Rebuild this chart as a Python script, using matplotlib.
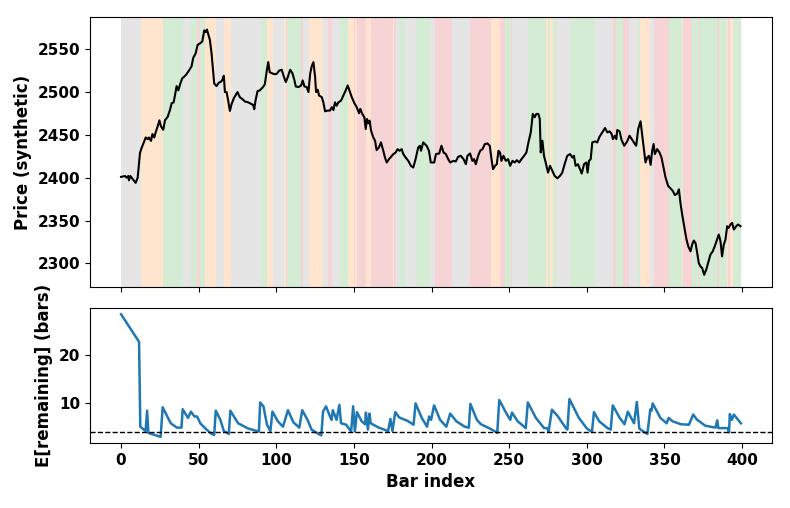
import matplotlib
matplotlib.use('Agg')
import matplotlib.pyplot as plt
import numpy as np

plt.rcParams['font.weight'] = 'bold'
plt.rcParams['axes.labelweight'] = 'bold'
plt.rcParams['font.size'] = 11

# price path (bar index, price)
price_x = [0, 2.6, 3.6, 4.7, 5.1, 6, 7.3, 9.4, 10.7, 12.2, 13.3, 15.9, 17.2, 18, 19.3, 20.2, 21.4, 22.3,
           23.6, 24.7, 25.7, 27.2, 28.3, 30, 31.5, 32.6, 33.9, 34.7, 35.8, 36.9, 38.2, 39.4, 40.7, 42.2,
           43.7, 45.4, 46.5, 48, 49.3, 51, 52.3, 53.6, 54.5, 55.3, 57.2, 58.3, 60, 61.5, 63, 64.3, 65.2,
           66.2, 66.9, 68, 69, 70.1, 71.2, 72.7, 75, 76.5, 78, 79.8, 81.9, 84, 85.1, 85.8, 86.6, 87.9,
           89.4, 91.5, 92.6, 93.7, 94.8, 95.8, 97.3, 98.6, 100.1, 101.8, 103.5, 104.6, 106.1, 107.4,
           108.9, 110.4, 111.7, 112.5, 114.3, 116, 117, 118.1, 119.6, 120.7, 121.8, 122.8, 123.9, 125,
           125.6, 126.7, 127.5, 129.3, 130.3, 131.4, 133.1, 134.6, 135.7, 136.8, 137.8, 138.9, 140,
           141.7, 143.2, 144.7, 146, 147.5, 148.6, 150.3, 151.8, 153.3, 154.1, 155.4, 156.7, 157.6,
           158.4, 159.3, 160.1, 161, 162.5, 163.6, 164.6, 166.1, 167.4, 168.9, 170, 171.1, 172.6, 173.9,
           175.4, 176.9, 178.1, 179.4, 180.7, 181.8, 183.3, 185, 186.7, 188.2, 189.7, 191.4, 192.5,
           193.2, 194.6, 196.8, 198.3, 199.5, 201.7, 202.8, 204.9, 206.4, 207.7, 209.2, 210.7, 212,
           214.1, 215.6, 217.1, 218.8, 220.6, 222.1, 223.1, 224.8, 226.3, 227.4, 228.5, 230, 231.3,
           232.8, 234.3, 236, 237.5, 238.6, 239.6, 240.9, 242, 243.1, 244.1, 245, 246.3, 247.8, 249.3,
           250.6, 252.1, 253.6, 254.9, 256.4, 257.9, 259.6, 261.1, 262.4, 263.9, 265.2, 266.4, 267.5,
           268.8, 269.7, 270.3, 271.4, 272.4, 273.5, 275, 276.3, 277.8, 279.3, 281, 282.7, 284.2, 285.7,
           287.4, 289.2, 290.7, 291.7, 292.8, 294.3, 295.6, 296.7, 298.2, 299.7, 300.5, 301.4, 302.5,
           303.5, 305.2, 306.7, 308.2, 310, 311.7, 313.2, 314.7, 316, 316.8, 318.1, 319, 319.6, 321.1,
           322.4, 324.1, 326, 327.5, 329.3, 331, 331.8, 333.1, 334.6, 335.7, 336.8, 337.8, 338.9, 340,
           341.1, 342.1, 343, 343.8, 345.3, 346.8, 348.1, 349.6, 350.7, 352.4, 353.9, 355.4, 356.7,
           358.2, 359.3, 360.3, 361.4, 362.7, 364, 365.3, 366.8, 367.8, 368.9, 370, 371.1, 372.1, 373.2,
           374.3, 375.6, 376.9, 378.1, 379.6, 381.1, 382.4, 383.9, 385, 386.1, 387.1, 388.2, 389.3,
           390.4, 391.4, 392.5, 393.6, 394.7, 396.2, 397.4, 399]
price_y = [2401, 2402, 2400, 2402, 2397, 2402, 2399, 2394, 2400, 2429, 2435, 2447, 2445, 2447, 2443, 2451,
           2447, 2453, 2460, 2467, 2460, 2456, 2467, 2471, 2479, 2487, 2488, 2496, 2507, 2502, 2510,
           2516, 2518, 2521, 2525, 2530, 2540, 2545, 2555, 2557, 2559, 2572, 2570, 2573, 2561, 2545,
           2510, 2507, 2511, 2512, 2514, 2519, 2500, 2500, 2490, 2478, 2486, 2493, 2500, 2494, 2492,
           2489, 2488, 2486, 2485, 2480, 2490, 2501, 2502, 2506, 2509, 2523, 2535, 2523, 2522, 2521,
           2521, 2525, 2526, 2519.5, 2511.7, 2517.5, 2526, 2522, 2513.6, 2506.6, 2505.8, 2507.7, 2513.6,
           2506.6, 2505.8, 2500, 2521.4, 2530, 2535, 2517.5, 2500, 2502.7, 2496, 2494, 2488, 2477.6,
           2478.4, 2478.4, 2482.3, 2479, 2488, 2484, 2488, 2490, 2496, 2502, 2507.7, 2500, 2494, 2487,
           2482.3, 2475.3, 2480.4, 2474.5, 2470.6, 2456.9, 2468.6, 2463.5, 2466.7, 2455, 2447, 2443.2,
           2432.3, 2435.4, 2441.3, 2431.5, 2423.6, 2417.8, 2421.7, 2424.4, 2427.6, 2429.5, 2433.4,
           2431.5, 2433.4, 2427.6, 2423.6, 2419.7, 2413.8, 2411.9, 2421.7, 2435.4, 2437.3, 2431.5,
           2441.3, 2437.3, 2431.5, 2417.8, 2417.8, 2427.6, 2428.3, 2437.3, 2429.5, 2427.6, 2421.7,
           2417.8, 2419.7, 2419, 2424.4, 2425.6, 2421.7, 2415.8, 2425.6, 2428.3, 2419.7, 2421.7, 2415.8,
           2425.6, 2431.5, 2433.4, 2439.3, 2440, 2437.3, 2421.7, 2410, 2413.9, 2415.8, 2431.5, 2429.5,
           2419.7, 2425.6, 2419.7, 2421.7, 2413.9, 2419.7, 2417.8, 2420.5, 2417.8, 2421.7, 2425.6,
           2429.5, 2441.3, 2453, 2474.5, 2470.6, 2474.5, 2474.5, 2468.6, 2429.5, 2443.2, 2425.6, 2417.8,
           2406, 2413.9, 2408, 2402.1, 2399.4, 2402.1, 2406, 2415.8, 2425.6, 2427.6, 2423.6, 2425.6,
           2413.9, 2415.8, 2410, 2404.9, 2415.8, 2417.8, 2406, 2419.7, 2421.7, 2441.2, 2442.4, 2441.2,
           2447.9, 2453, 2458, 2453, 2454.1, 2451, 2445.1, 2449, 2445.1, 2455.7, 2454.1, 2444, 2437.3,
           2442.4, 2449, 2444, 2439.3, 2437.3, 2456.9, 2465.9, 2449, 2431.5, 2417.8, 2423.6, 2425.6,
           2415, 2431.5, 2439.3, 2427.6, 2433.4, 2429.5, 2423.6, 2410, 2400.2, 2390.4, 2387.6, 2384.5,
           2379.8, 2381.4, 2386.5, 2370.8, 2357.1, 2343.4, 2329.7, 2320, 2314.1, 2321.9, 2326.6, 2323.9,
           2312.1, 2300.4, 2296.5, 2294.5, 2286.7, 2292.6, 2300.4, 2310.2, 2314.1, 2320, 2327.8,
           2333.7, 2325.8, 2308.2, 2321.9, 2327.8, 2343.4, 2341.5, 2345.4, 2347.3, 2339.5, 2343.4,
           2345.4, 2343.4]

# expected remaining duration (bar index, bars)
rem_x = [0, 11.6, 12.4, 15.8, 16.8, 17.6, 25.5, 26.8, 32, 36, 38.9, 39.7, 43.1, 45, 47.3, 49, 51, 54.4,
         58.3, 60, 61, 64, 66.2, 69.4, 70.4, 75.4, 82, 88.8, 89.6, 91.7, 94, 96.2, 97.5, 101, 104.3,
         107.5, 111, 114.8, 116.7, 120.1, 122.7, 127.2, 129, 130.1, 132, 134.6, 135.6, 136.4, 138.8,
         140.6, 141.7, 145, 148.2, 149.5, 150.6, 151.9, 155, 157.2, 157.7, 159, 160, 160.8, 166, 172,
         173.5, 174.8, 176.6, 179.2, 184.5, 188.4, 189.7, 193.7, 197.1, 198.4, 199.7, 201.6, 205.5,
         209.5, 212, 216, 221.3, 224, 225, 229.2, 231.8, 237, 241, 242.3, 243.6, 247.6, 250.7, 251.8,
         255.5, 260.7, 262, 267.2, 272.5, 274.4, 275.4, 277.5, 281.2, 286.5, 287.5, 288.8, 294.9,
         300.1, 303.3, 304.6, 308, 313.3, 315.4, 316.7, 321.2, 324.3, 326.4, 330.4, 332.2, 333.8,
         336.9, 339, 340.9, 341.7, 342.4, 347.4, 351.4, 352.7, 355.3, 360.6, 365.8, 368.5, 371.1,
         372.4, 376.3, 382.9, 384, 384.7, 390.8, 391.6, 392.1, 393.4, 394.7, 399.2]
rem_y = [28.4, 22.7, 5.2, 4.3, 8.5, 3.9, 3.1, 9.2, 5.9, 5.0, 5.0, 8.8, 7.0, 8.3, 7.3, 7.3, 5.9, 4.8,
         3.7, 3.5, 8.5, 6.6, 4.3, 3.7, 8.5, 5.9, 4.8, 4.2, 10.2, 9.4, 5.6, 4.3, 8.3, 6.3, 5.2,
         8.6, 6.1, 5.0, 8.6, 6.6, 4.6, 3.7, 3.4, 8.3, 9.4, 7.3, 6.6, 8.6, 6.6,
         9.7, 5.9, 5.6, 4.2, 9.4, 4.2, 8.2, 6.3, 5.7, 8.1, 4.6, 7.9, 5.9, 5.0, 4.3,
         6.8, 4.3, 8.2, 7.1, 6.4, 5.6, 10.0, 7.0, 5.2, 7.3, 6.6, 9.6, 6.6,
         5.2, 7.9, 6.3, 5.2, 5.0, 9.9, 6.6, 5.7, 4.9, 4.2, 3.9, 10.7, 8.3, 6.6, 8.1,
         6.3, 4.9, 10.2, 7.0, 4.9, 4.9, 4.2, 8.7, 7.4, 4.9, 4.6, 10.9, 7.0,
         4.8, 4.1, 8.2, 6.3, 4.9, 4.6, 9.6, 7.0, 5.7, 8.3, 5.9, 10.3, 4.8,
         4.1, 3.7, 8.8, 8.5, 10.0, 7.0, 5.9, 7.0, 6.3, 5.7, 5.6, 7.7, 6.6,
         6.3, 5.4, 5.0, 6.5, 4.9, 4.9, 4.0, 7.8, 6.6, 7.7, 5.9]
threshold = 4.0

# regime runs: start bar and state
regime_start = [0, 13, 27, 40, 45, 49, 51, 54, 61, 66, 71, 90, 94, 98, 105, 106, 107, 116, 117, 121, 130,
                133, 136, 141, 146, 150, 151, 152, 158, 161, 175, 176, 177, 179, 183, 190, 199, 202, 213,
                225, 238, 244, 247, 251, 252, 262, 274, 275, 276, 278, 281, 289, 305, 317, 319, 323, 327,
                333, 334, 341, 343, 353, 361, 362, 368, 372, 373, 384, 385, 390, 391, 392, 394]
regime_state = ['gray', 'orange', 'green', 'gray', 'green', 'red', 'green', 'orange', 'gray', 'orange',
                'gray', 'green', 'orange', 'gray', 'orange', 'red', 'green', 'red', 'gray', 'orange',
                'gray', 'red', 'gray', 'green', 'orange', 'red', 'orange', 'red', 'orange', 'red',
                'orange', 'red', 'gray', 'green', 'gray', 'green', 'gray', 'red', 'gray', 'red',
                'orange', 'red', 'green', 'red', 'gray', 'green', 'orange', 'green', 'orange', 'green',
                'gray', 'green', 'gray', 'red', 'green', 'red', 'gray', 'green', 'orange', 'gray', 'red',
                'green', 'orange', 'red', 'green', 'red', 'green', 'red', 'green', 'orange', 'red',
                'orange', 'green']
last_bar = 399

fig, (ax1, ax2) = plt.subplots(2, 1, figsize=(7.9, 5.08), dpi=100, sharex=True,
                               gridspec_kw={'height_ratios': [2, 1]})
fig.subplots_adjust(left=0.114, right=0.977, top=0.966, bottom=0.128, hspace=0.104)

ends = regime_start[1:] + [last_bar]
for s, e, st in zip(regime_start, ends, regime_state):
    ax1.axvspan(s, e, color='tab:' + st, alpha=0.2, lw=0)

ax1.plot(price_x, price_y, color='black', lw=1.5)
ax1.set_ylabel('Price (synthetic)', fontsize=12)
ax1.set_yticks([2300, 2350, 2400, 2450, 2500, 2550])

ax2.plot(rem_x, rem_y, color='tab:blue', lw=1.8)
ax2.axhline(threshold, color='black', ls='--', lw=1)
ax2.set_ylabel('E[remaining] (bars)', fontsize=12)
ax2.set_xlabel('Bar index', fontsize=12)
ax2.set_yticks([10, 20])
ax2.set_xticks(np.arange(0, 401, 50))

plt.savefig('out.png')
